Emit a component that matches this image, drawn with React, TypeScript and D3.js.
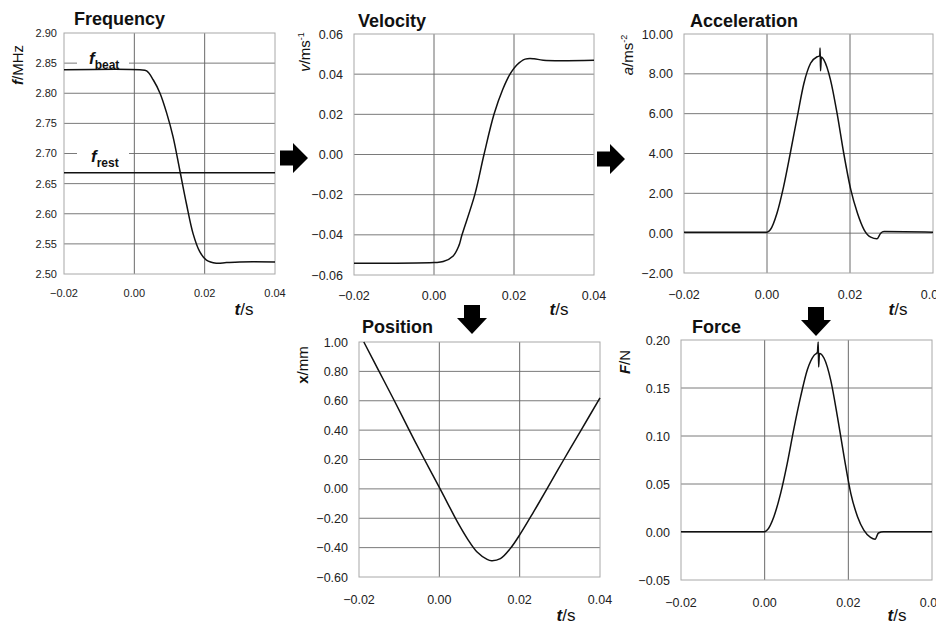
import React, { useEffect, useRef } from 'react';
import * as d3 from 'd3';

// shared time axis
const xTicks = [-0.02, 0, 0.02, 0.04];
const xGrid = [0, 0.02];

// Frequency
const freqTicks = [2.5, 2.55, 2.6, 2.65, 2.7, 2.75, 2.8, 2.85, 2.9];
const freqT = [-0.02, 0.0016, 0.0035, 0.0054, 0.0073, 0.0092, 0.011, 0.0129, 0.0148, 0.0167, 0.0186, 0.0205, 0.0233, 0.0262, 0.03, 0.04];
const freqF = [2.839, 2.839, 2.837, 2.822, 2.8, 2.767, 2.728, 2.673, 2.617, 2.567, 2.537, 2.523, 2.518, 2.519, 2.52, 2.52];
const fRest = 2.668;
const fBeat = 2.839;

// Velocity
const velTicks = [-0.06, -0.04, -0.02, 0, 0.02, 0.04, 0.06];
const velT = [-0.02, 0.0, 0.0023, 0.0048, 0.0062, 0.007, 0.0102, 0.0125, 0.015, 0.0172, 0.019, 0.0207, 0.0228, 0.025, 0.0273, 0.04];
const velV = [-0.0542, -0.0538, -0.0533, -0.0505, -0.0455, -0.04, -0.02, 0.0, 0.02, 0.0325, 0.04, 0.0446, 0.0475, 0.0477, 0.0469, 0.0469];

// Acceleration
const accTicks = [-2, 0, 2, 4, 6, 8, 10];
const accT = [-0.02, 0.0, 0.0008, 0.0024, 0.004, 0.0056, 0.0073, 0.0089, 0.0105, 0.0121, 0.0127, 0.0128, 0.0129, 0.0131, 0.0137, 0.0153, 0.0169, 0.0185, 0.0202, 0.0218, 0.0234, 0.025, 0.0265, 0.0274, 0.0282, 0.04];
const accA = [0.05, 0.05, 0.17, 1.0, 2.34, 4.0, 5.85, 7.53, 8.53, 8.86, 8.9, 9.3, 8.15, 8.85, 8.7, 7.7, 6.0, 4.0, 2.17, 1.0, 0.17, -0.2, -0.28, 0.0, 0.08, 0.05];

// Position
const posTicks = [-0.6, -0.4, -0.2, 0, 0.2, 0.4, 0.6, 0.8, 1.0];
const posT = [-0.0188, -0.015, -0.0112, -0.0075, -0.0037, 0.0, 0.002, 0.0045, 0.007, 0.0094, 0.0119, 0.013, 0.0152, 0.0177, 0.0202, 0.0235, 0.0268, 0.031, 0.0353, 0.04];
const posX = [1.0, 0.8, 0.6, 0.4, 0.2, 0.01, -0.095, -0.225, -0.34, -0.43, -0.48, -0.489, -0.475, -0.405, -0.305, -0.155, 0.0, 0.2, 0.4, 0.62];

// Force
const forTicks = [-0.05, 0, 0.05, 0.1, 0.15, 0.2];
const forT = [-0.02, 0.0, 0.0006, 0.0022, 0.0038, 0.0054, 0.007, 0.0086, 0.0102, 0.0118, 0.0126, 0.0128, 0.0129, 0.0131, 0.0142, 0.0158, 0.0174, 0.019, 0.0206, 0.0222, 0.0237, 0.0253, 0.0264, 0.0272, 0.0284, 0.04];
const forF = [0.0003, 0.0003, 0.002, 0.016, 0.04, 0.0715, 0.108, 0.141, 0.169, 0.184, 0.187, 0.198, 0.172, 0.186, 0.181, 0.158, 0.12, 0.078, 0.04, 0.016, 0.002, -0.0056, -0.0076, -0.001, 0.0003, 0.0003];

const FONT = "'Liberation Sans', Arial, Helvetica, sans-serif";

type Part = { s: string; b?: boolean; i?: boolean; sub?: boolean; sup?: boolean; size?: number };

const fmt = (v: number) => v.toFixed(2).replace('-', '\u2212');

function addText(parent: any, x: number, y: number, parts: Part[], size: number, anchor = 'start', rotate = false) {
  const t = parent.append('text')
    .attr('font-family', FONT)
    .attr('font-size', size)
    .attr('fill', '#111')
    .attr('text-anchor', anchor);
  if (rotate) t.attr('transform', `translate(${x},${y}) rotate(-90)`);
  else t.attr('x', x).attr('y', y);
  let shift = 0;
  parts.forEach(p => {
    const sp = t.append('tspan').text(p.s);
    const target = p.sub ? size * 0.3 : p.sup ? -size * 0.4 : 0;
    if (target !== shift) { sp.attr('dy', target - shift); shift = target; }
    if (p.b) sp.attr('font-weight', 'bold');
    if (p.i) sp.attr('font-style', 'italic');
    if (p.size) sp.attr('font-size', p.size);
  });
  return t;
}

const tLabel: Part[] = [{ s: 't', b: true, i: true }, { s: '/s' }];

const panels = [
  {
    title: 'Frequency', box: [64, 33, 275, 274], yDomain: [2.5, 2.9], yTicks: freqTicks, t: freqT, v: freqF, smooth: true,
    tickSize: 11, tickGap: 7, titlePos: [74, 25], xTickY: 297,
    yLabel: [{ s: 'f', b: true, i: true }, { s: '/MHz' }] as Part[], yLabelPos: [23, 65], tLabelPos: [244, 315],
  },
  {
    title: 'Velocity', box: [354, 34, 594, 275], yDomain: [-0.06, 0.06], yTicks: velTicks, t: velT, v: velV, smooth: true,
    tickSize: 12.5, tickGap: 11, titlePos: [358, 27], xTickY: 300,
    yLabel: [{ s: 'v', i: true }, { s: '/ms' }, { s: '-1', sup: true, size: 9 }] as Part[], yLabelPos: [310, 52], tLabelPos: [559, 315],
  },
  {
    title: 'Acceleration', box: [684, 34, 933, 273], yDomain: [-2, 10], yTicks: accTicks, t: accT, v: accA, smooth: false,
    tickSize: 12.5, tickGap: 11, titlePos: [690, 27], xTickY: 299,
    yLabel: [{ s: 'a', i: true }, { s: '/ms' }, { s: '-2', sup: true, size: 9 }] as Part[], yLabelPos: [633, 55], tLabelPos: [898, 315],
  },
  {
    title: 'Position', box: [359, 342, 600, 577], yDomain: [-0.6, 1.0], yTicks: posTicks, t: posT, v: posX, smooth: true,
    tickSize: 12.5, tickGap: 11, titlePos: [362, 333], xTickY: 604,
    yLabel: [{ s: 'x', b: true }, { s: '/mm' }] as Part[], yLabelPos: [308, 365], tLabelPos: [566, 621],
  },
  {
    title: 'Force', box: [681, 340, 932, 580], yDomain: [-0.05, 0.2], yTicks: forTicks, t: forT, v: forF, smooth: false,
    tickSize: 12.5, tickGap: 11, titlePos: [692, 333], xTickY: 607,
    yLabel: [{ s: 'F', b: true, i: true }, { s: '/N' }] as Part[], yLabelPos: [630, 362], tLabelPos: [897, 621],
  },
];

const App = () => {
  const svgRef = useRef(null);

  useEffect(() => {
    const svg = d3.select(svgRef.current);
    svg.selectAll('*').remove();

    panels.forEach((p, idx) => {
      const [x0, y0, x1, y1] = p.box;
      const x = d3.scaleLinear().domain([-0.02, 0.04]).range([x0, x1]);
      const y = d3.scaleLinear().domain(p.yDomain).range([y1, y0]);
      const g = svg.append('g');

      // horizontal grid
      g.selectAll('line.hg')
        .data(p.yTicks.filter(v => v > p.yDomain[0] + 1e-9 && v < p.yDomain[1] - 1e-9))
        .enter().append('line')
        .attr('x1', x0).attr('x2', x1)
        .attr('y1', d => y(d)).attr('y2', d => y(d))
        .attr('stroke', '#7a7a7a').attr('stroke-width', 1);
      // vertical grid
      g.selectAll('line.vg')
        .data(xGrid)
        .enter().append('line')
        .attr('x1', d => x(d)).attr('x2', d => x(d))
        .attr('y1', y0).attr('y2', y1)
        .attr('stroke', '#6a6a6a').attr('stroke-width', 1);
      // frame
      g.append('rect')
        .attr('x', x0).attr('y', y0).attr('width', x1 - x0).attr('height', y1 - y0)
        .attr('fill', 'none').attr('stroke', '#a8a8a8').attr('stroke-width', 1);

      // frequency extras: f_rest line and labels
      if (idx === 0) {
        g.append('line')
          .attr('x1', x0).attr('x2', x1)
          .attr('y1', y(fRest)).attr('y2', y(fRest))
          .attr('stroke', '#111').attr('stroke-width', 1.6);
        g.append('rect').attr('x', 77).attr('y', y(2.85) - 12).attr('width', 52).attr('height', 22).attr('fill', '#fff');
        g.append('rect').attr('x', 77).attr('y', y(2.7) - 12).attr('width', 52).attr('height', 22).attr('fill', '#fff');
        addText(g, 89, y(fBeat) - 6, [{ s: 'f', b: true, i: true }, { s: 'beat', b: true, sub: true, size: 12 }], 17);
        addText(g, 91, y(fRest) - 11, [{ s: 'f', b: true, i: true }, { s: 'rest', b: true, sub: true, size: 12 }], 17);
      }

      // curve
      const pts = p.t.map((t, i) => [t, p.v[i]] as [number, number]);
      const line = d3.line<[number, number]>()
        .x(d => x(d[0])).y(d => y(d[1]))
        .curve(p.smooth ? d3.curveCatmullRom.alpha(0.5) : d3.curveMonotoneX);
      g.append('path')
        .attr('d', line(pts) as string)
        .attr('fill', 'none').attr('stroke', '#111').attr('stroke-width', 1.5);

      // y tick labels
      p.yTicks.forEach(v => {
        g.append('text')
          .attr('x', x0 - p.tickGap).attr('y', y(v) + p.tickSize * 0.36)
          .attr('text-anchor', 'end').attr('font-family', FONT).attr('font-size', p.tickSize)
          .attr('fill', '#222').text(fmt(v));
      });
      // x tick labels
      xTicks.forEach(v => {
        g.append('text')
          .attr('x', x(v)).attr('y', p.xTickY)
          .attr('text-anchor', 'middle').attr('font-family', FONT).attr('font-size', p.tickSize)
          .attr('fill', '#222').text(fmt(v));
      });

      // title & axis labels
      g.append('text')
        .attr('x', p.titlePos[0]).attr('y', p.titlePos[1])
        .attr('font-family', FONT).attr('font-size', 18).attr('font-weight', 'bold')
        .attr('fill', '#111').text(p.title);
      addText(g, p.yLabelPos[0], p.yLabelPos[1], p.yLabel, 15, 'middle', true);
      addText(g, p.tLabelPos[0], p.tLabelPos[1], tLabel, 17, 'middle');
    });

    // block arrows between panels
    const right = (ax: number, ay: number) => {
      const pth = d3.path();
      pth.moveTo(ax, ay - 7.5); pth.lineTo(ax + 13, ay - 7.5); pth.lineTo(ax + 13, ay - 15);
      pth.lineTo(ax + 28, ay); pth.lineTo(ax + 13, ay + 15); pth.lineTo(ax + 13, ay + 7.5);
      pth.lineTo(ax, ay + 7.5); pth.closePath();
      svg.append('path').attr('d', pth.toString()).attr('fill', '#000');
    };
    const down = (ax: number, ay: number) => {
      const pth = d3.path();
      pth.moveTo(ax - 8, ay); pth.lineTo(ax + 8, ay); pth.lineTo(ax + 8, ay + 13);
      pth.lineTo(ax + 15, ay + 13); pth.lineTo(ax, ay + 29); pth.lineTo(ax - 15, ay + 13);
      pth.lineTo(ax - 8, ay + 13); pth.closePath();
      svg.append('path').attr('d', pth.toString()).attr('fill', '#000');
    };
    right(280, 158);
    right(597, 159);
    down(472, 305);
    down(816, 307);
  }, []);

  return (
    <svg ref={svgRef} width={936} height={626}
      style={{ position: 'absolute', left: 0, top: 0, background: '#fff' }} />
  );
};

export default App;
